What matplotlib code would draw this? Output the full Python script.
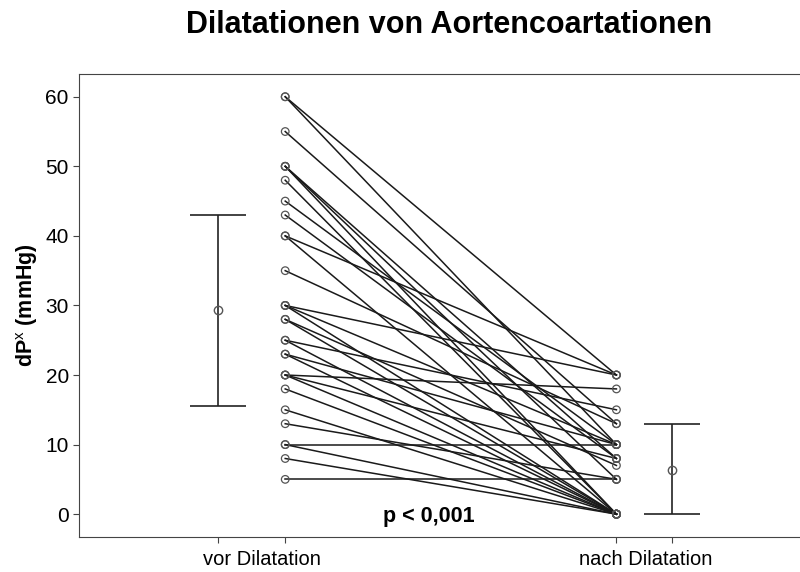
import numpy as np
import matplotlib
matplotlib.use("Agg")
import matplotlib.pyplot as plt

plt.rcParams["font.family"] = ["Liberation Sans", "DejaVu Sans"]
plt.rcParams["mathtext.fontset"] = "custom"
plt.rcParams["mathtext.rm"] = "Liberation Sans"
plt.rcParams["mathtext.bf"] = "Liberation Sans:bold"

# Paare: dP vor und nach Dilatation (mmHg)
vor = [60, 60, 55, 50, 50, 50, 48, 45, 43, 40, 40, 35, 30, 30, 30, 28, 28,
       25, 25, 23, 23, 20, 20, 20, 18, 15, 13, 10, 10, 8, 5]
nach = [20, 10, 13, 8, 0, 5, 0, 10, 8, 20, 0, 13, 20, 10, 0, 7, 0,
        15, 0, 10, 0, 18, 8, 0, 0, 0, 5, 10, 0, 0, 5]

gruppen = ["vor Dilatation", "nach Dilatation"]
mittel = [29.3, 6.4]
unten = [15.5, 0.0]
oben = [43.0, 12.9]

# Positionen auf der x-Achse
x_pkt = [0.0, 1.0]
x_err = [-0.204, 1.168]
x_lab = [-0.07, 1.088]

fig = plt.figure(figsize=(8, 5.72), dpi=100)
ax = fig.add_axes([0.099, 0.061, 0.91, 0.81])

for a, b in zip(vor, nach):
    ax.plot(x_pkt, [a, b], "-", color="#1a1a1a", lw=1.1, zorder=2)
ax.scatter(np.full(len(vor), x_pkt[0]), vor, s=30, facecolor="none",
           edgecolor="#555555", lw=0.9, zorder=3)
ax.scatter(np.full(len(nach), x_pkt[1]), nach, s=30, facecolor="none",
           edgecolor="#555555", lw=0.9, zorder=3)

m = np.array(mittel)
yerr = [m - np.array(unten), np.array(oben) - m]
ax.errorbar(x_err, mittel, yerr=yerr, fmt="o", mfc="none", mec="#555555",
            ms=6, ecolor="#222222", elinewidth=1.2, capsize=20, capthick=1.2)

ax.text(0.433, -0.4, "p < 0,001", fontsize=15.5, fontweight="bold",
        ha="center", va="center")

ax.set_xlim(-0.622, 1.576)
ax.set_ylim(-3.3, 63.3)
ax.set_yticks(np.arange(0, 61, 10))
ax.set_xticks([x_err[0], x_pkt[0], x_pkt[1], x_err[1]])
ax.set_xticklabels([])
for xl, g in zip(x_lab, gruppen):
    ax.annotate(g, xy=(xl, 0), xycoords=ax.get_xaxis_transform(),
                xytext=(0, -9), textcoords="offset points", fontsize=14.5,
                ha="center", va="top")
ax.tick_params(axis="both", length=4, color="#444444", labelsize=15)
for s in ax.spines.values():
    s.set_color("#444444")
ax.set_ylabel(r"dP$^{\mathrm{x}}$ (mmHg)", fontsize=15.5, fontweight="bold",
              labelpad=4)
fig.text(0.561, 0.956, "Dilatationen von Aortencoartationen", fontsize=22,
         fontweight="bold", ha="center", va="center")

fig.savefig("out.png", dpi=100)
